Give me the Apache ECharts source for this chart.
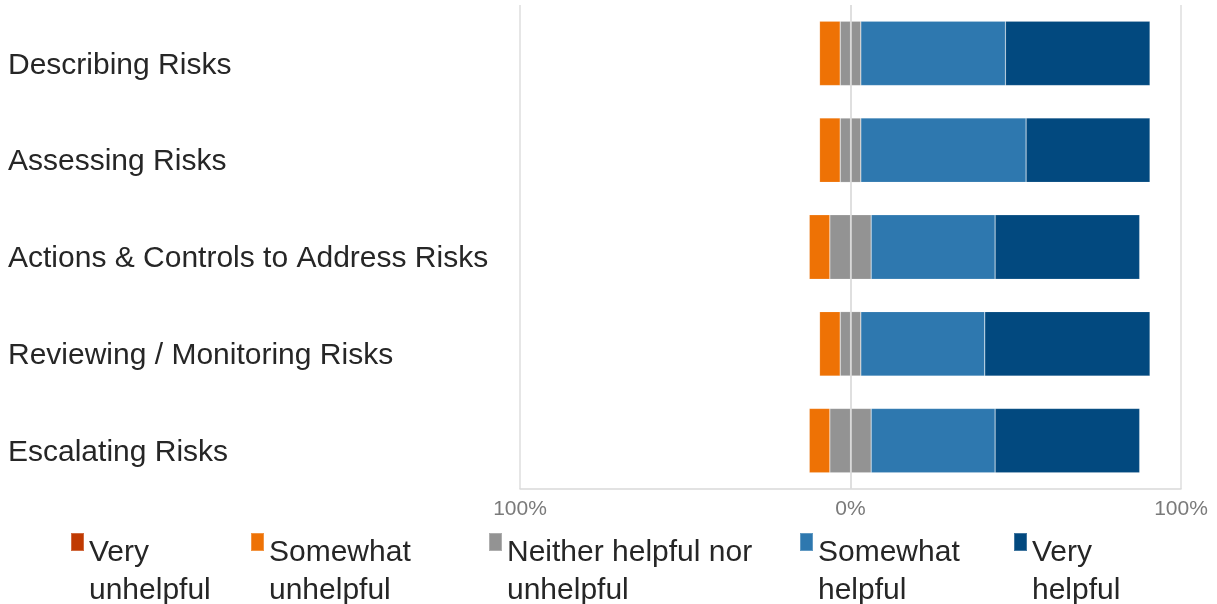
<!DOCTYPE html>
<html>
<head>
<meta charset="utf-8">
<script src="https://cdn.jsdelivr.net/npm/echarts@6/dist/echarts.min.js"></script>
<style>
html,body{margin:0;padding:0;background:#fff;}
#chart{width:1217px;height:604px;}
</style>
</head>
<body>
<div id="chart"></div>
<script>
const categories = ['Describing Risks', 'Assessing Risks', 'Actions & Controls to Address Risks', 'Reviewing / Monitoring Risks', 'Escalating Risks'];
const seriesNames = ['Very unhelpful', 'Somewhat unhelpful', 'Neither helpful nor unhelpful', 'Somewhat helpful', 'Very helpful'];
const veryUnhelpful = [0, 0, 0, 0, 0];
const somewhatUnhelpful = [6.25, 6.25, 6.25, 6.25, 6.25];
const neither = [6.25, 6.25, 12.5, 6.25, 12.5];
const somewhatHelpful = [43.75, 50, 37.5, 37.5, 37.5];
const veryHelpful = [43.75, 37.5, 43.75, 50, 43.75];
const tickValues = [-100, 0, 100];

const colors = {
  'Very unhelpful': '#C03A02',
  'Somewhat unhelpful': '#EE7205',
  'Neither helpful nor unhelpful': '#939393',
  'Somewhat helpful': '#2E78AF',
  'Very helpful': '#02497F'
};
const FONT = '"Liberation Sans", Arial, sans-serif';

function bar(name, data, extra) {
  return Object.assign({
    name: name,
    type: 'bar',
    stack: 'total',
    barWidth: '66.5%',
    data: data,
    itemStyle: { color: colors[name], borderColor: 'rgba(255,255,255,0.25)', borderWidth: 0.6 },
    emphasis: { disabled: true }
  }, extra || {});
}

const legendLeft = [70, 250, 488, 799, 1013];
const legends = seriesNames.map((n, i) => ({
  data: [n],
  left: legendLeft[i],
  top: 532,
  padding: 0,
  orient: 'horizontal',
  itemWidth: 13,
  itemHeight: 18,
  icon: 'rect',
  selectedMode: false,
  formatter: function (name) {
    const k = name.lastIndexOf(' ');
    return '{t|' + name.slice(0, k) + '}\n{t|' + name.slice(k + 1) + '}';
  },
  textStyle: {
    fontFamily: FONT,
    fontSize: 30,
    color: '#262626',
    padding: [60, 0, 0, 0],
    rich: {
      t: { fontFamily: FONT, fontSize: 30, lineHeight: 38, color: '#262626' }
    }
  }
}));

const option = {
  animation: false,
  backgroundColor: '#fff',
  legend: legends,
  grid: { left: 520, right: 36, top: 5, bottom: 115 },
  xAxis: {
    type: 'value',
    min: -100,
    max: 100,
    interval: 100,
    axisLine: { show: true, lineStyle: { color: '#d9d9d9', width: 1.5 } },
    axisTick: { show: false },
    splitLine: { show: true, lineStyle: { color: '#dedede', width: 1.5 } },
    axisLabel: {
      fontFamily: FONT,
      fontSize: 21,
      color: '#7a7a7a',
      margin: 10,
      customValues: tickValues,
      formatter: v => Math.abs(v) + '%'
    }
  },
  yAxis: {
    type: 'category',
    data: categories,
    inverse: true,
    axisLine: { show: false },
    axisTick: { show: false },
    splitLine: { show: false },
    axisLabel: {
      fontFamily: FONT,
      fontSize: 30,
      color: '#262626',
      align: 'left',
      margin: 512,
      padding: [24, 0, 0, 0],
      formatter: v => '{c|' + v + '}',
      rich: {
        c: { fontFamily: FONT, fontSize: 30, color: '#262626' }
      }
    }
  },
  series: [
    bar('Neither helpful nor unhelpful', neither.map(v => -v / 2), {
      markLine: {
        silent: true,
        symbol: 'none',
        label: { show: false },
        lineStyle: { color: '#dcdcdc', type: 'solid', width: 1.5 },
        data: [{ xAxis: 0 }]
      }
    }),
    bar('Somewhat unhelpful', somewhatUnhelpful.map(v => -v)),
    bar('Very unhelpful', veryUnhelpful.map(v => -v)),
    bar('Neither helpful nor unhelpful', neither.map(v => v / 2)),
    bar('Somewhat helpful', somewhatHelpful),
    bar('Very helpful', veryHelpful)
  ]
};

const chart = echarts.init(document.getElementById('chart'));
chart.setOption(option);
</script>
</body>
</html>
